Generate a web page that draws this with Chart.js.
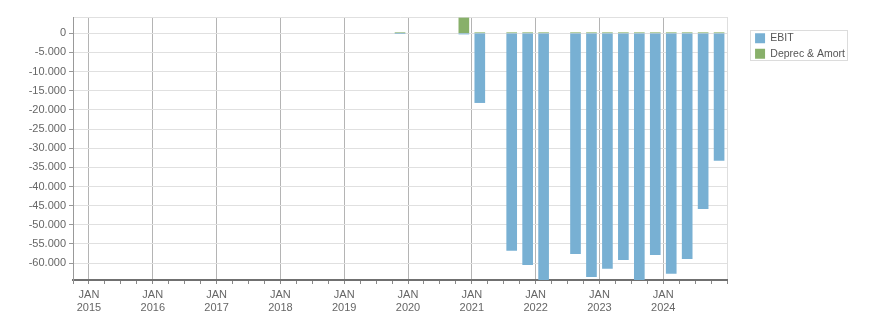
<!DOCTYPE html>
<html>
<head>
<meta charset="utf-8">
<script src="https://cdn.jsdelivr.net/npm/chart.js@4"></script>
<style>
  body { margin: 0; background: #fff; }
  #wrap { width: 876px; height: 313px; }
</style>
</head>
<body>
<div id="wrap"><canvas id="ebitChart" width="876" height="313"></canvas></div>
<script>
// quarterly values
const quarters = ['2019 Q4', '2020 Q4', '2021 Q1', '2021 Q3', '2021 Q4', '2022 Q1', '2022 Q3', '2022 Q4',
                  '2023 Q1', '2023 Q2', '2023 Q3', '2023 Q4', '2024 Q1', '2024 Q2', '2024 Q3', '2024 Q4'];
const ebit = [0, -200, -18100, -56700, -60400, -64400, -57500, -63500,
              -61400, -59100, -64400, -57800, -62700, -58800, -45800, -33200];
const deprecAmort = [150, 4000, 150, 150, 150, 150, 150, 150,
                     150, 150, 150, 150, 150, 150, 150, 150];
const yearLabels = [2015, 2016, 2017, 2018, 2019, 2020, 2021, 2022, 2023, 2024];
const yTicks = [0, -5000, -10000, -15000, -20000, -25000, -30000, -35000, -40000,
                -45000, -50000, -55000, -60000];
const yMin = -64400, yMax = 4250;
const xMin = 2014.75, xMax = 2025;

// quarter -> position on a year axis (bar sits mid quarter)
function quarterX(q) {
    const [y, n] = q.split(' Q');
    return Number(y) + (Number(n) - 1) / 4 + 0.125;
}

function fmt(v) {
    const s = Math.abs(v).toString().replace(/\B(?=(\d{3})+(?!\d))/g, '.');
    return (v < 0 ? '-' : '') + s;
}

const tickVal = c => (c && c.tick) ? c.tick.value : null;

Chart.defaults.font.family = 'Liberation Sans';
Chart.defaults.font.size = 11;
Chart.defaults.color = '#666';

// light border round the legend
const legendBox = {
    id: 'legendBox',
    afterDraw(chart) {
        const boxes = chart.legend.legendHitBoxes;
        if (!boxes || !boxes.length) return;
        let l = Infinity, t = Infinity, r = -Infinity, b = -Infinity;
        boxes.forEach(h => {
            l = Math.min(l, h.left); t = Math.min(t, h.top);
            r = Math.max(r, h.left + h.width); b = Math.max(b, h.top + h.height);
        });
        const ctx = chart.ctx;
        ctx.save();
        ctx.strokeStyle = '#dcdcdc';
        ctx.lineWidth = 1;
        ctx.strokeRect(Math.round(l - 5) + 0.5, Math.round(t - 3) + 0.5, Math.round(r - l + 7), Math.round(b - t + 4));
        ctx.restore();
    }
};

new Chart(document.getElementById('ebitChart'), {
    type: 'bar',
    data: {
        datasets: [
            {
                label: 'EBIT',
                data: quarters.map((q, i) => ({ x: quarterX(q), y: ebit[i] })),
                backgroundColor: '#78b0d3',
                barThickness: 10
            },
            {
                label: 'Deprec & Amort',
                data: quarters.map((q, i) => ({ x: quarterX(q), y: deprecAmort[i] })),
                backgroundColor: '#88b06a',
                barThickness: 10
            }
        ]
    },
    options: {
        responsive: false,
        animation: false,
        layout: { padding: { top: 17, right: 21, left: 0, bottom: 0 } },
        plugins: {
            tooltip: { enabled: false },
            legend: {
                position: 'right',
                align: 'start',
                title: { display: true, text: ' ', font: { size: 1, lineHeight: 1 }, padding: { top: 10, bottom: 0 } },
                labels: { boxWidth: 10, boxHeight: 10, padding: 5, color: '#555', font: { size: 10.5 } }
            }
        },
        scales: {
            x: {
                type: 'linear',
                stacked: true,
                offset: false,
                min: xMin,
                max: xMax,
                afterFit: s => { s.height = 33; },
                afterBuildTicks: s => {
                    const t = [];
                    for (let v = xMin; v <= xMax; v += 0.25) t.push({ value: v });
                    s.ticks = t;
                },
                ticks: {
                    autoSkip: false,
                    maxRotation: 0,
                    padding: 4,
                    callback: v => yearLabels.includes(v) ? ['JAN', String(v)] : ''
                },
                grid: {
                    offset: false,
                    color: c => yearLabels.includes(tickVal(c)) ? '#b4b4b4' : (tickVal(c) === xMax ? '#dedede' : 'rgba(0,0,0,0)'),
                    tickColor: '#888',
                    tickLength: 4
                },
                border: { color: '#707070', width: 2 }
            },
            y: {
                stacked: true,
                min: yMin,
                max: yMax,
                afterFit: s => { s.width = 73; },
                afterBuildTicks: s => {
                    s.ticks = yTicks.concat([yMax]).map(v => ({ value: v }));
                },
                ticks: {
                    padding: 3,
                    callback: v => v === yMax ? '' : fmt(v)
                },
                grid: {
                    color: '#e0e0e0',
                    tickColor: c => tickVal(c) === yMax ? 'rgba(0,0,0,0)' : '#999',
                    tickLength: 4
                },
                border: { color: '#999' }
            },
            gap: {
                position: 'right',
                display: true,
                afterFit: s => { s.width = 23; },
                ticks: { display: false },
                grid: { drawOnChartArea: false, drawTicks: false },
                border: { display: false }
            }
        }
    },
    plugins: [legendBox]
});
</script>
</body>
</html>
